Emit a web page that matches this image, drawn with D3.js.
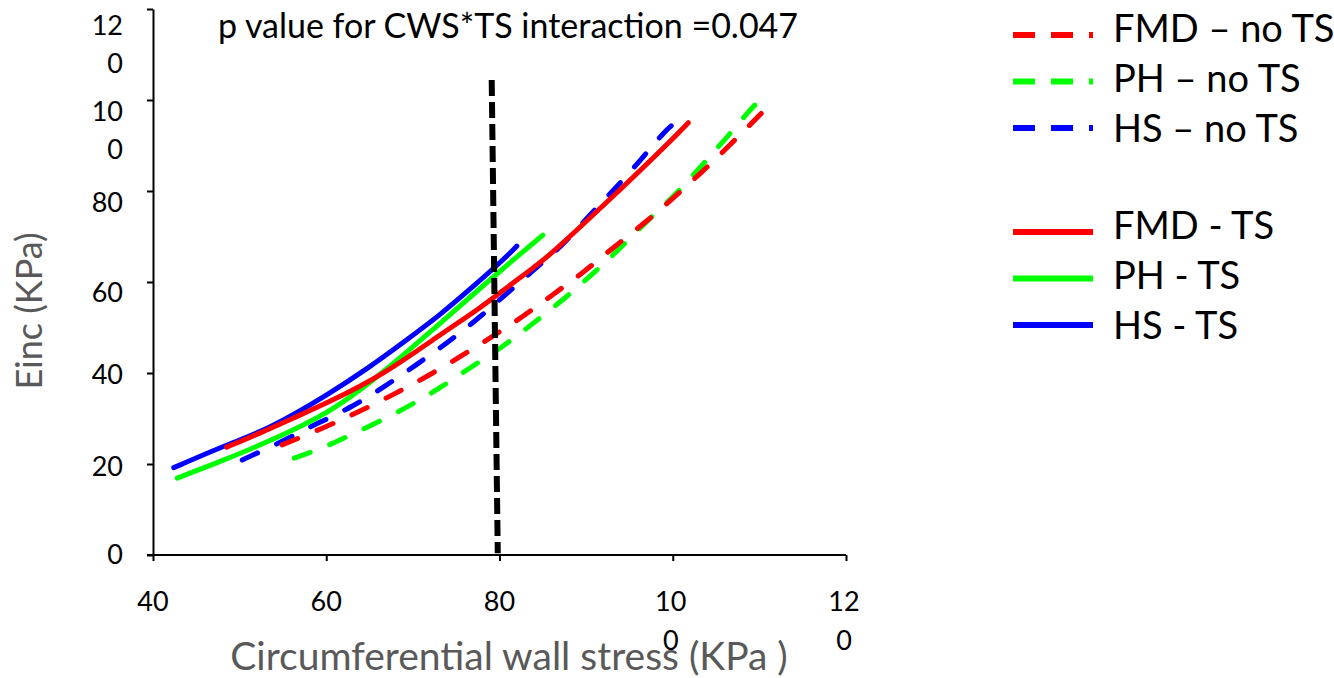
<!DOCTYPE html>
<html>
<head>
<meta charset="utf-8">
<script src="https://cdn.jsdelivr.net/npm/d3@7"></script>
<style>
  html, body { margin: 0; padding: 0; background: #fff; }
  svg { display: block; font-family: Lato, "Noto Sans", sans-serif; }
</style>
</head>
<body>
<svg id="chart" width="1334" height="678"></svg>
<script>
// Circumferential wall stress (KPa) against incremental elastic modulus Einc (KPa)
const fmdNoTsX = [54.9, 59.9, 63.9, 67.9, 71.7, 75.4, 79.1, 82.8, 86.4, 89.9, 93.2, 96.8, 100.2, 103.4, 106.6, 110.4];
const fmdNoTsY = [24.2, 28.1, 31.6, 35.4, 39.3, 43.5, 47.9, 52.5, 57.6, 62.4, 67.7, 73.0, 78.7, 84.2, 90.1, 97.4];

const phNoTsX = [56.3, 59.3, 61.4, 65.3, 69.2, 73.0, 76.7, 80.5, 83.8, 87.3, 90.6, 93.4, 96.9, 100.3, 103.1, 106.0, 108.9, 109.7];
const phNoTsY = [21.3, 23.3, 25.1, 28.6, 32.3, 36.5, 41.3, 45.9, 50.8, 56.0, 61.5, 66.4, 73.2, 79.1, 85.1, 91.2, 97.8, 99.3];

const hsNoTsX = [50.3, 55.1, 59.0, 63.0, 66.8, 70.4, 74.1, 77.5, 80.8, 84.1, 87.2, 90.3, 93.3, 96.3, 99.1, 100.0];
const hsNoTsY = [20.9, 25.1, 29.0, 32.5, 37.1, 41.8, 46.8, 51.9, 57.4, 62.9, 67.9, 74.5, 80.4, 86.8, 93.2, 94.6];

const fmdTsX = [48.5, 52.4, 56.2, 60.1, 66.6, 73.1, 77.8, 80.9, 85.5, 89.3, 93.9, 99.3, 101.8];
const fmdTsY = [23.7, 26.8, 30.1, 33.4, 39.6, 48.4, 54.3, 58.9, 65.3, 72.1, 80.2, 90.1, 95.0];

const phTsX = [42.8, 48.5, 52.3, 56.2, 60.1, 63.9, 66.6, 69.3, 73.1, 76.9, 81.6, 85.0];
const phTsY = [16.9, 21.1, 24.1, 27.5, 31.2, 36.2, 40.3, 44.6, 50.8, 57.2, 64.9, 70.3];

const hsTsX = [42.4, 48.5, 52.4, 56.2, 60.1, 64.8, 69.3, 73.1, 76.9, 80.4, 82.0];
const hsTsY = [19.2, 24.2, 27.0, 30.8, 35.2, 41.0, 47.3, 52.7, 58.9, 64.8, 67.9];

// Vertical reference line (dashed, black)
const refLineX = [79.1, 79.8];
const refLineY = [104.4, 0.4];

const xTicks = [40, 60, 80, 100, 120];
const xTickLabels = [["40"], ["60"], ["80"], ["10", "0"], ["12", "0"]];
const yTicks = [0, 20, 40, 60, 80, 100, 120];
const yTickLabels = [["0"], ["20"], ["40"], ["60"], ["80"], ["10", "0"], ["12", "0"]];

const seriesNames = ["FMD \u2013 no TS", "PH \u2013 no TS", "HS \u2013 no TS", "FMD - TS", "PH - TS", "HS - TS"];
const seriesColors = ["#ff0000", "#00ff00", "#0000ff", "#ff0000", "#00ff00", "#0000ff"];
const seriesDashed = [true, true, true, false, false, false];

const titleText = "p value for CWS*TS interaction =0.047";
const xTitle = "Circumferential wall stress (KPa )";
const yTitle = "Einc (KPa)";

const seriesData = [
  [fmdNoTsX, fmdNoTsY], [phNoTsX, phNoTsY], [hsNoTsX, hsNoTsY],
  [fmdTsX, fmdTsY], [phTsX, phTsY], [hsTsX, hsTsY]
].map(([xs, ys]) => xs.map((v, i) => ({ x: v, y: ys[i] })));

const svg = d3.select("#chart");
const x = d3.scaleLinear().domain([40, 120]).range([153, 846]);
const y = d3.scaleLinear().domain([0, 120]).range([555, 9]);

const lineGen = d3.line().x(d => x(d.x)).y(d => y(d.y)).curve(d3.curveBasis);

// series drawn back to front: dashed curves first, then solid ones
const drawOrder = [2, 1, 0, 5, 4, 3];
drawOrder.forEach(i => {
  svg.append("path")
    .datum(seriesData[i])
    .attr("d", lineGen)
    .attr("fill", "none")
    .attr("stroke", seriesColors[i])
    .attr("stroke-width", 5)
    .attr("stroke-linecap", "round")
    .attr("stroke-dasharray", seriesDashed[i] ? "17,21" : null);
});

// reference line
svg.append("path")
  .datum(refLineX.map((v, i) => ({ x: v, y: refLineY[i] })))
  .attr("d", d3.line().x(d => x(d.x)).y(d => y(d.y)))
  .attr("fill", "none")
  .attr("stroke", "#000")
  .attr("stroke-width", 6)
  .attr("stroke-dasharray", "16,6");

// axes
const tickFont = 27;
const lineStep = 38;

const yAxis = svg.append("g")
  .attr("transform", `translate(${x(40)},0)`)
  .call(d3.axisLeft(y).tickValues(yTicks).tickSize(6).tickSizeOuter(0).tickFormat(""));
yAxis.select(".domain").attr("stroke-width", 2);
yAxis.selectAll(".tick line").attr("stroke-width", 2);

const xAxis = svg.append("g")
  .attr("transform", `translate(0,${y(0)})`)
  .call(d3.axisBottom(x).tickValues(xTicks).tickSize(6).tickSizeOuter(0).tickFormat(""));
xAxis.select(".domain").attr("stroke-width", 2).attr("d", `M${x(40) - 6},0H${x(120)}`);
xAxis.selectAll(".tick line").attr("stroke-width", 2);

// y tick labels (wrapped labels are split over two lines)
const yLabelShift = { 0: -2, 20: 1, 40: 0, 60: 9, 80: 10, 100: 10, 120: 15 };
yTicks.forEach((t, i) => {
  const txt = svg.append("text")
    .attr("text-anchor", "end")
    .attr("font-size", tickFont)
    .attr("fill", "#000");
  yTickLabels[i].forEach((s, k) => {
    txt.append("tspan")
      .attr("x", 123)
      .attr("y", y(t) + yLabelShift[t] + k * lineStep)
      .attr("dominant-baseline", "central")
      .text(s);
  });
});

xTicks.forEach((t, i) => {
  const txt = svg.append("text")
    .attr("text-anchor", "middle")
    .attr("font-size", tickFont)
    .attr("fill", "#000");
  xTickLabels[i].forEach((s, k) => {
    txt.append("tspan")
      .attr("x", x(t) + (xTickLabels[i].length > 1 ? -2 : 0))
      .attr("y", 600 + k * (lineStep + 1))
      .attr("dominant-baseline", "central")
      .text(s);
  });
});

// titles
svg.append("text")
  .attr("x", 508).attr("y", 38)
  .attr("text-anchor", "middle")
  .attr("font-size", 34)
  .attr("fill", "#000")
  .text(titleText);

svg.append("text")
  .attr("x", 509).attr("y", 670)
  .attr("text-anchor", "middle")
  .attr("font-size", 39)
  .attr("fill", "#595959")
  .text(xTitle);

svg.append("text")
  .attr("transform", "translate(42,311) rotate(-90)")
  .attr("text-anchor", "middle")
  .attr("font-size", 36)
  .attr("fill", "#595959")
  .text(yTitle);

// legend: two groups of three rows
const legendGroupTop = [35, 232];
seriesNames.forEach((name, i) => {
  const g = Math.floor(i / 3), j = i % 3;
  const ly = legendGroupTop[g] + j * 46.5;
  svg.append("line")
    .attr("x1", 1013).attr("x2", 1093)
    .attr("y1", ly).attr("y2", ly)
    .attr("stroke", seriesColors[i])
    .attr("stroke-width", 6)
    .attr("stroke-dasharray", seriesDashed[i] ? "22,16" : null);
  svg.append("text")
    .attr("x", 1113)
    .attr("y", legendGroupTop[g] + 7 + j * 50)
    .attr("font-size", 38)
    .attr("fill", "#000")
    .text(name);
});
</script>
</body>
</html>
